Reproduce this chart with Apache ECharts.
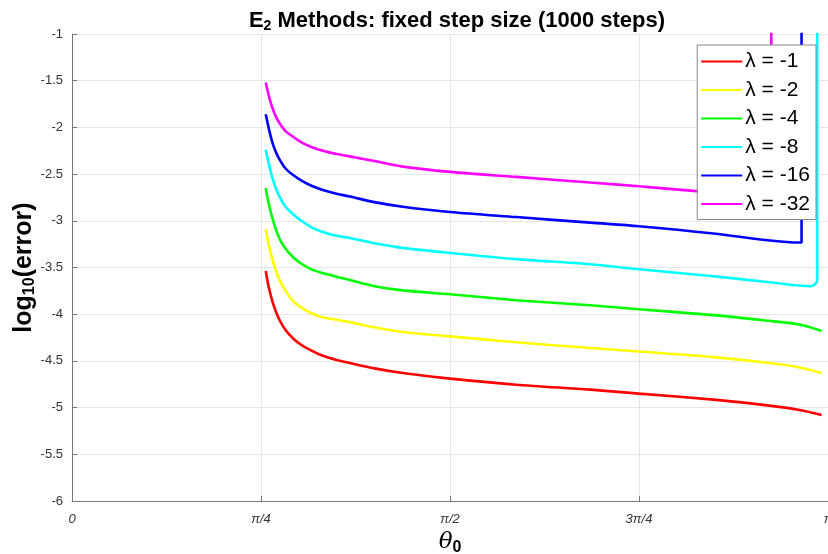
<!DOCTYPE html>
<html>
<head>
<meta charset="utf-8">
<script src="https://cdn.jsdelivr.net/npm/echarts@6/dist/echarts.min.js"></script>
<style>html,body{margin:0;padding:0;background:#fff}#c{width:828px;height:554px}</style>
</head>
<body>
<div id="c"></div>
<script>
// x in units of pi/4 (0..4 -> 0..pi)
const xTickLabels = ['0', 'π/4', 'π/2', '3π/4', 'π'];
const seriesNames = ['λ = -1', 'λ = -2', 'λ = -4', 'λ = -8', 'λ = -16', 'λ = -32'];
const seriesColors = ['#ff0000', '#ffff00', '#00ff00', '#00ffff', '#0000ff', '#ff00ff'];

const lam1 = [[1.025,-3.537],[1.04,-3.70],[1.06,-3.86],[1.08,-3.98],[1.10,-4.07],[1.13,-4.17],[1.17,-4.26],[1.214,-4.33],[1.267,-4.39],[1.32,-4.44],[1.40,-4.49],[1.47,-4.523],[1.60,-4.58],[1.75,-4.63],[2.0,-4.69],[2.35,-4.755],[2.742,-4.808],[3.0,-4.85],[3.394,-4.915],[3.68,-4.976],[3.85,-5.025],[3.966,-5.08]];
const lam2 = [[1.025,-3.09],[1.04,-3.25],[1.06,-3.41],[1.08,-3.54],[1.10,-3.64],[1.13,-3.75],[1.17,-3.86],[1.214,-3.93],[1.267,-3.99],[1.32,-4.03],[1.40,-4.06],[1.47,-4.085],[1.60,-4.14],[1.75,-4.19],[2.0,-4.237],[2.35,-4.30],[2.742,-4.362],[3.0,-4.40],[3.394,-4.46],[3.68,-4.52],[3.85,-4.57],[3.966,-4.63]];
const lam4 = [[1.025,-2.65],[1.04,-2.81],[1.06,-2.97],[1.08,-3.10],[1.10,-3.20],[1.13,-3.30],[1.17,-3.39],[1.214,-3.46],[1.267,-3.52],[1.327,-3.56],[1.40,-3.60],[1.47,-3.635],[1.60,-3.70],[1.75,-3.745],[2.0,-3.787],[2.35,-3.85],[2.742,-3.905],[3.0,-3.947],[3.394,-4.01],[3.68,-4.07],[3.85,-4.11],[3.966,-4.18]];
const lam8 = [[1.025,-2.24],[1.04,-2.38],[1.06,-2.54],[1.08,-2.66],[1.10,-2.75],[1.13,-2.85],[1.17,-2.93],[1.214,-3.00],[1.267,-3.07],[1.327,-3.12],[1.40,-3.16],[1.47,-3.185],[1.60,-3.24],[1.75,-3.29],[2.0,-3.344],[2.35,-3.41],[2.742,-3.465],[3.0,-3.519],[3.394,-3.594],[3.68,-3.655],[3.908,-3.70],[3.943,-3.636],[3.943,0]];
const lam16 = [[1.025,-1.86],[1.04,-2.00],[1.06,-2.16],[1.08,-2.27],[1.10,-2.35],[1.13,-2.44],[1.17,-2.51],[1.214,-2.57],[1.267,-2.625],[1.327,-2.67],[1.40,-2.71],[1.47,-2.74],[1.60,-2.80],[1.75,-2.85],[2.0,-2.905],[2.35,-2.96],[2.742,-3.02],[3.0,-3.058],[3.394,-3.136],[3.68,-3.208],[3.846,-3.233],[3.86,-3.233],[3.86,0]];
const lam32 = [[1.025,-1.52],[1.04,-1.65],[1.06,-1.79],[1.08,-1.89],[1.10,-1.96],[1.13,-2.04],[1.17,-2.10],[1.214,-2.16],[1.267,-2.21],[1.327,-2.25],[1.40,-2.285],[1.47,-2.31],[1.60,-2.36],[1.75,-2.42],[2.0,-2.476],[2.35,-2.53],[2.742,-2.59],[3.0,-2.63],[3.288,-2.68],[3.50,-2.71],[3.69,-2.735],[3.70,-2.735],[3.70,0]];
const allData = [lam1, lam2, lam4, lam8, lam16, lam32];

const chart = echarts.init(document.getElementById('c'), null, {renderer: 'canvas'});
const FONT = 'Liberation Sans, Arial, sans-serif';
chart.setOption({
  animation: false,
  backgroundColor: '#ffffff',
  title: {
    text: 'E{s|2} Methods: fixed step size (1000 steps)',
    left: 452, top: 4, textAlign: 'center',
    textStyle: {
      fontFamily: FONT, fontSize: 22, fontWeight: 'bold', color: '#000',
      rich: { s: { fontFamily: FONT, fontSize: 14, fontWeight: 'bold', verticalAlign: 'bottom', padding: [10,0,0,0], color: '#000' } }
    }
  },
  grid: { left: 72, right: 0, top: 34, bottom: 53, containLabel: false, outerBoundsMode: 'none' },
  legend: {
    data: seriesNames,
    orient: 'vertical', right: 12, top: 45,
    itemWidth: 41, itemHeight: 14, itemGap: 7.5,
    padding: [6, 6, 5, 3],
    itemStyle: { opacity: 0 },
    backgroundColor: '#ffffff', borderColor: '#888888', borderWidth: 1,
    textStyle: { fontFamily: FONT, fontSize: 21, color: '#000', padding: [0,0,0,-2] }
  },
  xAxis: {
    type: 'value', min: 0, max: 4, interval: 1,
    name: '{t|θ}{s|0}', nameLocation: 'middle', nameGap: 28, nameMoveOverlap: false,
    nameTextStyle: {
      rich: {
        t: { fontFamily: 'DejaVu Serif, serif', fontStyle: 'italic', fontSize: 23, color: '#000' },
        s: { fontFamily: FONT, fontWeight: 'bold', fontSize: 16, color: '#000', padding: [11,0,0,0] }
      }
    },
    axisLine: { show: true, lineStyle: { color: '#777', width: 1 } },
    axisTick: { show: true, inside: true, length: 5, lineStyle: { color: '#777' } },
    axisLabel: {
      margin: 12, color: '#333', fontFamily: FONT, fontSize: 13, fontStyle: 'italic',
      formatter: function (v) { return xTickLabels[Math.round(v)] || ''; }
    },
    splitLine: { show: true, lineStyle: { color: '#e6e6e6', width: 1 } }
  },
  yAxis: {
    type: 'value', min: -6, max: -1, interval: 0.5,
    name: 'log{s|10}(error)', nameLocation: 'middle', nameGap: 34, nameRotate: 90, nameMoveOverlap: false,
    nameTextStyle: {
      fontFamily: FONT, fontSize: 25, fontWeight: 'bold', color: '#000',
      rich: { s: { fontFamily: FONT, fontSize: 16, fontWeight: 'bold', color: '#000', padding: [11,0,0,0] } }
    },
    axisLine: { show: true, lineStyle: { color: '#777', width: 1 } },
    axisTick: { show: true, inside: true, length: 5, lineStyle: { color: '#777' } },
    axisLabel: { margin: 9, color: '#333', fontFamily: FONT, fontSize: 13 },
    splitLine: { show: true, lineStyle: { color: '#e6e6e6', width: 1 } }
  },
  series: allData.map(function (d, i) {
    return {
      name: seriesNames[i], type: 'line', data: d,
      symbol: 'none', smooth: 0.3, clip: true,
      lineStyle: { color: seriesColors[i], width: 2.6 },
      itemStyle: { color: seriesColors[i] }
    };
  })
});
</script>
</body>
</html>
